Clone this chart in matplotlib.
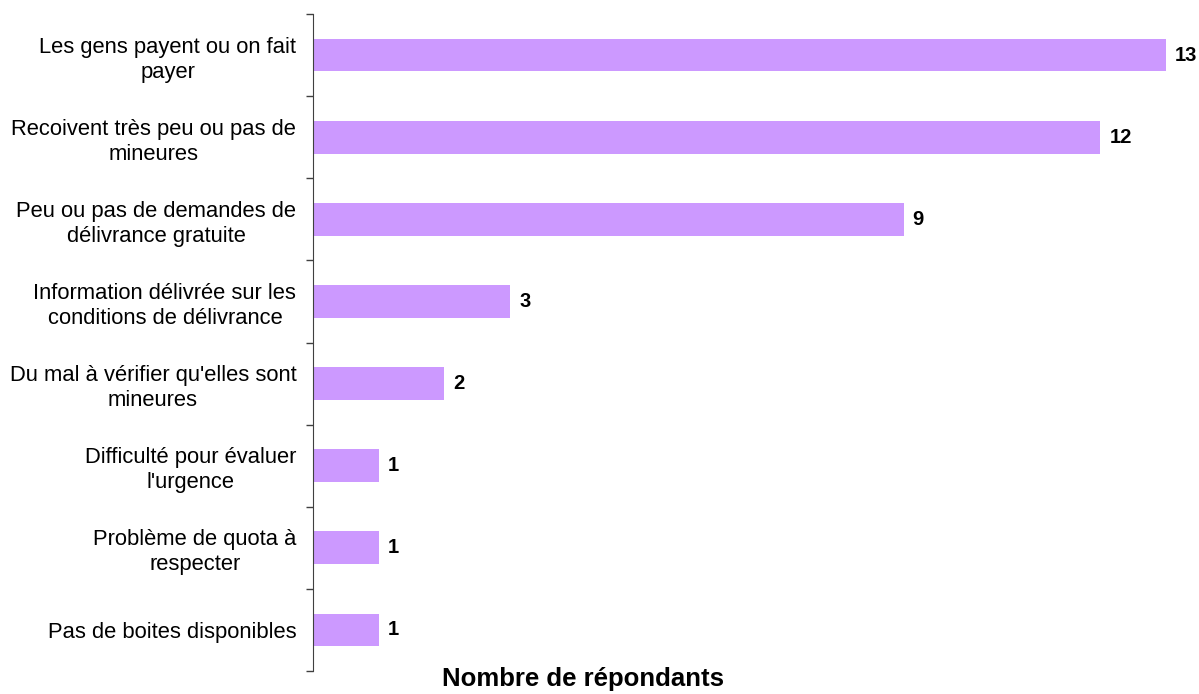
import matplotlib.pyplot as plt
import numpy as np

plt.rcParams['font.family'] = ['Liberation Sans', 'DejaVu Sans']

categories = [
    "Les gens payent ou on fait\npayer",
    "Recoivent très peu ou pas de\nmineures",
    "Peu ou pas de demandes de\ndélivrance gratuite",
    "Information délivrée sur les\nconditions de délivrance",
    "Du mal à vérifier qu'elles sont\nmineures",
    "Difficulté pour évaluer\nl'urgence",
    "Problème de quota à\nrespecter",
    "Pas de boites disponibles",
]
values = [13, 12, 9, 3, 2, 1, 1, 1]

W, H = 1199, 694
fig = plt.figure(figsize=(W / 100, H / 100), dpi=100)
ax = fig.add_axes([313 / W, (H - 671) / H, (1166 - 313) / W, (671 - 14) / H])

y = np.arange(len(values))
ax.barh(y, values, height=0.4, color='#CC99FF')
ax.set_xlim(0, 13)
ax.set_ylim(len(values) - 0.5, -0.5)

for yi, v in zip(y, values):
    ax.text(v + 0.14, yi, str(v), va='center', ha='left',
            fontsize=14.5, fontweight='bold', clip_on=False)

# labels at bar centres, small ticks at category boundaries
ax.set_yticks(y)
ax.set_yticklabels(categories, fontsize=15.8, multialignment='center', linespacing=1.25)
ax.tick_params(axis='y', which='major', length=0, pad=12)
ax.set_yticks(np.arange(len(values) + 1) - 0.5, minor=True)
ax.tick_params(axis='y', which='minor', length=5, width=1, color='#404040')

for s in ['top', 'right', 'bottom']:
    ax.spines[s].set_visible(False)
ax.spines['left'].set_color('#404040')
ax.set_xticks([])

fig.text(583 / W, 3 / H, "Nombre de répondants", ha='center', va='bottom',
         fontsize=18.5, fontweight='bold')

fig.savefig('out.png', dpi=100)
